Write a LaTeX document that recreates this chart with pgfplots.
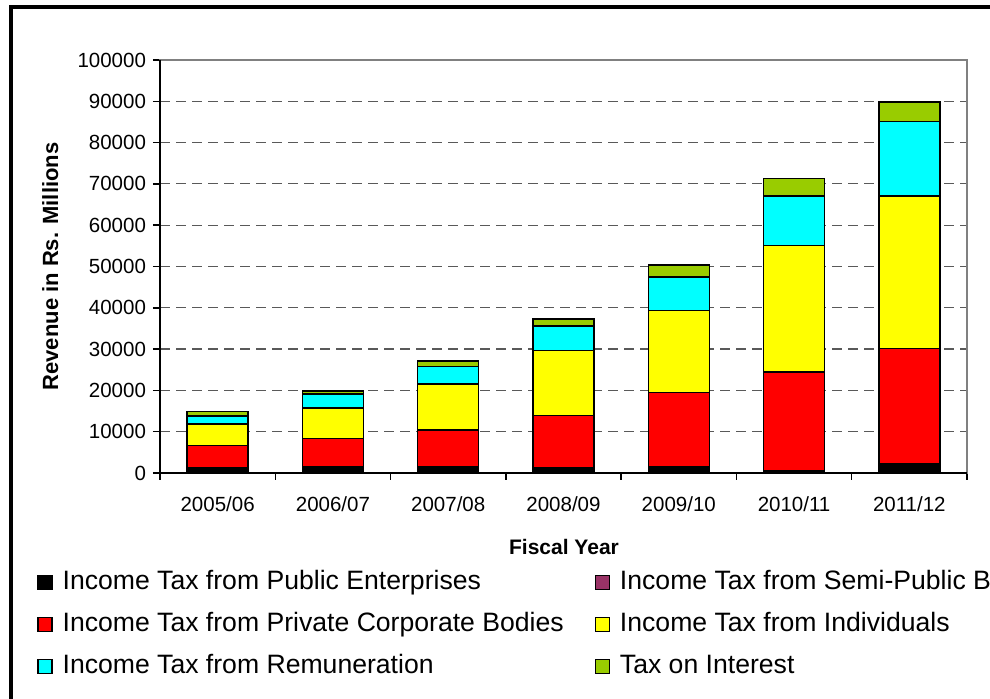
\documentclass[border=0pt]{standalone}
\usepackage{fontspec}
\setmainfont{Liberation Sans}
\usepackage{pgfplots}
\pgfplotsset{compat=1.18}

\definecolor{pubent}{HTML}{000000}
\definecolor{semipub}{HTML}{993366}
\definecolor{privcorp}{HTML}{FF0000}
\definecolor{indiv}{HTML}{FFFF00}
\definecolor{remun}{HTML}{00FFFF}
\definecolor{interest}{HTML}{99CC00}

\begin{document}
\begin{tikzpicture}
\useasboundingbox (0,0) rectangle (495pt,349.5pt);
\clip (0,0) rectangle (495pt,349.5pt);
% outer chart frame (only top and left edges are inside the crop)
\draw[line width=2pt] (5.5pt,-5pt) -- (5.5pt,346pt) -- (500pt,346pt);
\begin{axis}[
    at={(80pt,113pt)}, anchor=south west,
    scale only axis, width=403.5pt, height=206.5pt,
    clip=false,
    ybar stacked, bar width=30.5pt,
    xmin=-0.5, xmax=6.5, ymin=0, ymax=100000,
    xtick={-0.5,0.5,...,6.5},
    x tick label as interval,
    xticklabels={2005/06,2006/07,2007/08,2008/09,2009/10,2010/11,2011/12},
    ytick={0,10000,20000,30000,40000,50000,60000,70000,80000,90000,100000},
    yticklabels={0,10000,20000,30000,40000,50000,60000,70000,80000,90000,100000},
    scaled y ticks=false,
    xtick pos=bottom, ytick pos=left,
    tick label style={font=\fontsize{10.25}{12}\selectfont},
    xticklabel style={yshift=-5pt},
    tick align=outside, major tick length=3.5pt,
    tick style={black, line width=0.75pt},
    axis line style={draw=gray, line width=0.6pt},
    ymajorgrids,
    major grid style={black!65, line width=0.6pt, dash pattern=on 5pt off 3pt},
    ylabel={Revenue in Rs. Millions},
    ylabel style={font=\bfseries\fontsize{11}{13}\selectfont, at={(axis description cs:-0.136,0.5)}, anchor=center},
    xlabel={Fiscal Year},
    xlabel style={font=\bfseries\fontsize{10.5}{12}\selectfont, at={(axis description cs:0.5006,-0.179)}, anchor=center},
    every axis plot/.append style={draw=black, line width=0.75pt},
    legend columns=2,
    legend cell align=left,
    legend image code/.code={\draw[#1, line width=0.6pt] (0pt,-3.5pt) rectangle (7pt,3.5pt);},
    legend style={at={(axis description cs:-0.1524,-0.235)}, anchor=north west,
        draw=none, fill=none, inner sep=0pt, row sep=9pt,
        nodes={inner sep=0pt, text height=9.5pt, text depth=2.5pt, font=\fontsize{13.3}{15}\selectfont},
        /tikz/every odd column/.append style={column sep=5pt},
        /tikz/every even column/.append style={column sep=15.5pt}},
    after end axis/.code={
        \draw[black, line width=0.8pt] (rel axis cs:0,1) -- (rel axis cs:0,0) -- (rel axis cs:1,0);
    },
]
\addplot[fill=pubent] coordinates {(0,1300) (1,1600) (2,1600) (3,1300) (4,1500) (5,600) (6,2350)};
\addplot[fill=semipub] coordinates {(0,0) (1,0) (2,0) (3,0) (4,0) (5,0) (6,0)};
\addplot[fill=privcorp] coordinates {(0,5400) (1,6700) (2,8800) (3,12600) (4,17950) (5,23800) (6,27850)};
\addplot[fill=indiv] coordinates {(0,5200) (1,7400) (2,11200) (3,15700) (4,19850) (5,30700) (6,36900)};
\addplot[fill=remun] coordinates {(0,1900) (1,3400) (2,4150) (3,6000) (4,8200) (5,12000) (6,18050)};
\addplot[fill=interest] coordinates {(0,1100) (1,800) (2,1350) (3,1700) (4,2900) (5,4250) (6,4650)};
\legend{Income Tax from Public Enterprises, Income Tax from Semi-Public Bodies,
        Income Tax from Private Corporate Bodies, Income Tax from Individuals,
        Income Tax from Remuneration, Tax on Interest}
\end{axis}
\end{tikzpicture}
\end{document}
